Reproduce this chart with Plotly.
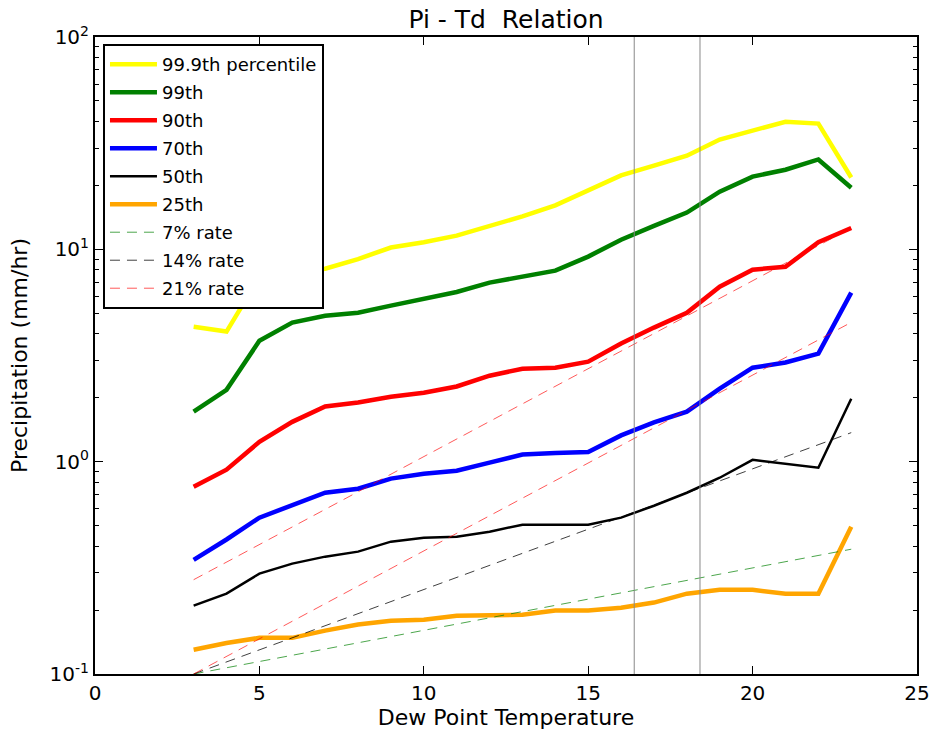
import plotly.graph_objects as go

dew_point = list(range(3, 24))

p999 = [4.32, 4.1, 7.4, 7.9, 8.1, 9.0, 10.2, 10.8, 11.6, 12.8, 14.3, 16.1, 18.9, 22.3, 24.8, 27.6, 32.9, 36.3, 39.9, 39.1, 21.8]
p99 = [1.72, 2.18, 3.71, 4.52, 4.87, 5.03, 5.43, 5.86, 6.3, 6.97, 7.44, 7.94, 9.24, 11.1, 12.9, 14.9, 18.7, 22.0, 23.7, 26.5, 19.5]
p90 = [0.762, 0.917, 1.24, 1.54, 1.82, 1.90, 2.02, 2.11, 2.26, 2.54, 2.74, 2.77, 2.96, 3.60, 4.28, 5.03, 6.67, 8.02, 8.28, 10.8, 12.6]
p70 = [0.345, 0.43, 0.545, 0.627, 0.714, 0.746, 0.832, 0.878, 0.907, 0.99, 1.08, 1.10, 1.11, 1.33, 1.53, 1.72, 2.21, 2.77, 2.93, 3.23, 6.25]
p50 = [0.21, 0.239, 0.297, 0.331, 0.357, 0.377, 0.42, 0.438, 0.443, 0.468, 0.505, 0.505, 0.505, 0.545, 0.62, 0.714, 0.84, 1.02, 0.98, 0.937, 1.98]
p25 = [0.13, 0.14, 0.148, 0.148, 0.16, 0.171, 0.178, 0.18, 0.188, 0.188, 0.19, 0.199, 0.199, 0.205, 0.217, 0.239, 0.249, 0.249, 0.239, 0.239, 0.494]

rate_x = [3, 23]
rate7 = [0.1, 0.387]
rate14 = [0.1, 1.37]
rate21_low = [0.1, 4.53]
rate21_high = [0.278, 12.6]

vlines_x = [16.4, 18.4]

x_ticks = [0, 5, 10, 15, 20, 25]
y_major = [0.1, 1, 10, 100]
y_major_text = ["10<sup>-1</sup>", "10<sup>0</sup>", "10<sup>1</sup>", "10<sup>2</sup>"]
y_minor = [m * d for d in [0.1, 1, 10] for m in range(2, 10)]

fig = go.Figure()

solid = [
    ("99.9th percentile", p999, "#ffff00", 4.5),
    ("99th", p99, "#008000", 4.5),
    ("90th", p90, "#ff0000", 4.5),
    ("70th", p70, "#0000ff", 4.5),
    ("50th", p50, "#000000", 2.5),
    ("25th", p25, "#ffa500", 4.5),
]
for i, (name, vals, col, w) in enumerate(solid):
    fig.add_trace(go.Scatter(x=dew_point, y=vals, mode="lines", name=name,
                             line=dict(color=col, width=w), legendgroup=f"g{i}"))

dashed = [
    ("7% rate", rate7, "rgba(0,128,0,0.7)", True, "d1"),
    ("14% rate", rate14, "rgba(0,0,0,0.75)", True, "d2"),
    ("21% rate", rate21_low, "rgba(255,0,0,0.65)", True, "d3"),
    ("21% rate", rate21_high, "rgba(255,0,0,0.65)", False, "d3"),
]
for name, vals, col, show, grp in dashed:
    fig.add_trace(go.Scatter(x=rate_x, y=vals, mode="lines", name=name,
                             line=dict(color=col, width=1, dash="10px,7px"),
                             showlegend=show, legendgroup=grp))

for vx in vlines_x:
    fig.add_shape(type="line", x0=vx, x1=vx, y0=0, y1=1, xref="x", yref="paper",
                  line=dict(color="#888888", width=1))

W, H = 933, 736
font_family = "DejaVu Sans, Arial, sans-serif"
fig.update_layout(
    width=W, height=H,
    margin=dict(l=95, r=16, t=37, b=62, autoexpand=False),
    paper_bgcolor="white", plot_bgcolor="white",
    font=dict(family=font_family, size=20, color="black"),
    title=dict(text="Pi - Td  Relation", x=0.5, xref="paper", xanchor="center",
               y=1 - 19 / H, yref="container", yanchor="middle",
               font=dict(size=25, color="black", family=font_family)),
    legend=dict(x=0.0097, y=0.989, xanchor="left", yanchor="top",
                bgcolor="white", bordercolor="black", borderwidth=2, itemwidth=47,
                font=dict(size=18, family=font_family), tracegroupgap=1.6),
    showlegend=True,
)
fig.update_xaxes(range=[0, 25], tickvals=x_ticks, ticks="inside", ticklen=8,
                 tickcolor="black", showline=True, linecolor="black", linewidth=2, mirror="ticks",
                 showgrid=False, zeroline=False, automargin=False,
                 title=dict(text="Dew Point Temperature", font=dict(size=22), standoff=6),
                 tickfont=dict(size=20))
fig.update_yaxes(type="log", range=[-1, 2], tickvals=y_major, ticktext=y_major_text,
                 ticks="inside", ticklen=8, tickcolor="black", showline=True, linecolor="black",
                 linewidth=2, mirror="ticks", showgrid=False, zeroline=False, automargin=False,
                 minor=dict(tickvals=y_minor, ticks="inside", ticklen=4, tickcolor="black", showgrid=False),
                 title=dict(text="Precipitation (mm/hr)", font=dict(size=22), standoff=16),
                 tickfont=dict(size=20))

fig.write_html("out.html", config={"displayModeBar": False},
               post_script="document.body.style.margin='0';document.body.style.overflow='hidden';")
